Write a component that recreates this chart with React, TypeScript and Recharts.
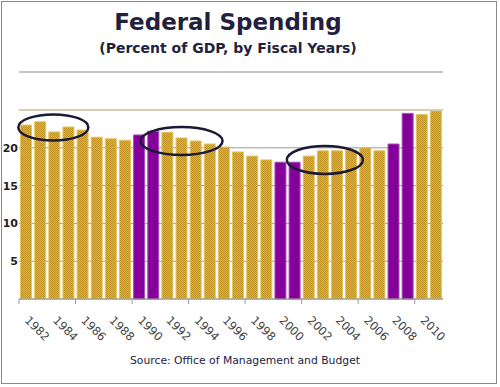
import React from 'react';
import { BarChart, Bar, XAxis, YAxis, CartesianGrid, Cell, ReferenceDot, ReferenceLine } from 'recharts';

const years = [
  '1982', '1983', '1984', '1985', '1986', '1987', '1988', '1989', '1990', '1991',
  '1992', '1993', '1994', '1995', '1996', '1997', '1998', '1999', '2000', '2001',
  '2002', '2003', '2004', '2005', '2006', '2007', '2008', '2009', '2010', '2011',
];
const spending = [
  23.0, 23.45, 22.1, 22.75, 22.35, 21.4, 21.2, 21.0, 21.7, 22.2,
  22.05, 21.3, 20.9, 20.5, 20.1, 19.45, 18.9, 18.4, 18.1, 18.1,
  18.9, 19.6, 19.6, 19.7, 20.0, 19.6, 20.5, 24.55, 24.4, 24.9,
];
const highlightYears = ['1990', '1991', '2000', '2001', '2008', '2009'];
const yTicks = [0, 5, 10, 15, 20, 25];
const yLabels = [5, 10, 15, 20];
const circled = [
  { year: '1984', value: 22.7, rx: 35, ry: 13, dx: -1 },
  { year: '1993', value: 20.9, rx: 41, ry: 14, dx: 0 },
  { year: '2003', value: 18.4, rx: 38, ry: 14, dx: 2 },
];

const data = years.map((y, i) => ({ year: y, value: spending[i] }));

const XTick = (props: any) => {
  const { x, y, payload } = props;
  const idx = payload.index ?? years.indexOf(payload.value);
  const off = payload.offset ?? 7.07;
  const tx = x - 2;
  const ty = y + 14;
  return (
    <g>
      {idx % 4 === 0 && (
        <line x1={x - off} x2={x - off} y1={y - 8} y2={y - 3} stroke="#999" strokeWidth={1} />
      )}
      {idx % 2 === 0 && (
        <text
          x={tx}
          y={ty}
          transform={`rotate(45, ${tx}, ${ty})`}
          textAnchor="start"
          fontFamily="'DejaVu Sans', sans-serif"
          fontSize={11.5}
          fill="#444"
        >
          {payload.value}
        </text>
      )}
    </g>
  );
};

const YTick = (props: any) => {
  const { y, payload } = props;
  if (!yLabels.includes(payload.value)) return <g />;
  return (
    <text
      x={18}
      y={y + 4}
      textAnchor="end"
      fontFamily="'DejaVu Sans', sans-serif"
      fontWeight="bold"
      fontSize={11}
      fill="#222"
    >
      {payload.value}
    </text>
  );
};

const EllipseShape = (rx: number, ry: number, dx: number) => (props: any) => (
  <ellipse
    cx={props.cx + dx}
    cy={props.cy}
    rx={rx}
    ry={ry}
    fill="none"
    stroke="#1c1a36"
    strokeWidth={2.5}
  />
);

export default function App() {
  return (
    <div style={{ position: 'absolute', left: 0, top: 0, width: 500, height: 387, background: '#fff' }}>
      <div
        style={{
          position: 'absolute', left: 1, top: 1, width: 496, height: 383,
          border: '1px solid #8a8a8a', boxSizing: 'border-box',
        }}
      />
      <div
        style={{
          position: 'absolute', left: 0, top: 8, width: 456, textAlign: 'center',
          fontFamily: "'DejaVu Sans', sans-serif", fontWeight: 'bold', fontSize: 23,
          color: '#231f3e', lineHeight: '28px',
        }}
      >
        Federal Spending
      </div>
      <div
        style={{
          position: 'absolute', left: 0, top: 40, width: 456, textAlign: 'center',
          fontFamily: "'DejaVu Sans', sans-serif", fontWeight: 'bold', fontSize: 14,
          color: '#231f3e', lineHeight: '17px',
        }}
      >
        (Percent of GDP, by Fiscal Years)
      </div>
      <div
        style={{
          position: 'absolute', left: 19, top: 71, width: 424, height: 2, background: '#c4c4c4',
        }}
      />
      <div
        style={{
          position: 'absolute', left: 0, top: 354, width: 490, textAlign: 'center',
          fontFamily: "'DejaVu Sans', sans-serif", fontSize: 10.8,
          color: '#1c1c48', lineHeight: '14px',
        }}
      >
        Source: Office of Management and Budget
      </div>
      <div style={{ position: 'absolute', left: 0, top: 0 }}>
        <BarChart
          width={500}
          height={387}
          data={data}
          margin={{ top: 110, right: 57, bottom: 38, left: 0 }}
          barCategoryGap="11%"
        >
          <defs>
            <pattern id="goldHatch" width="2" height="2" patternUnits="userSpaceOnUse">
              <rect x="0" y="0" width="2" height="2" fill="#e2b234" />
              <rect x="0" y="0" width="1" height="1" fill="#c09222" />
              <rect x="1" y="1" width="1" height="1" fill="#c09222" />
            </pattern>
          </defs>
          <CartesianGrid vertical={false} stroke="#9a9a9a" />
          <XAxis
            dataKey="year"
            interval={0}
            tick={<XTick />}
            tickLine={false}
            axisLine={{ stroke: '#999' }}
            height={50}
          />
          <YAxis
            domain={[0, 25]}
            ticks={yTicks}
            width={19}
            tick={<YTick />}
            tickLine={false}
            axisLine={false}
          />
          <ReferenceLine y={25} stroke="#d9cfb0" strokeWidth={1.5} />
          <Bar dataKey="value" isAnimationActive={false}>
            {data.map((d) => (
              <Cell
                key={d.year}
                fill={highlightYears.includes(d.year) ? '#85009a' : 'url(#goldHatch)'}
                stroke={highlightYears.includes(d.year) ? '#a64fba' : '#e6c25a'}
                strokeWidth={1}
              />
            ))}
          </Bar>
          {circled.map((c) => (
            <ReferenceDot
              key={c.year}
              x={c.year}
              y={c.value}
              r={1}
              ifOverflow="visible"
              shape={EllipseShape(c.rx, c.ry, c.dx)}
            />
          ))}
        </BarChart>
      </div>
    </div>
  );
}
